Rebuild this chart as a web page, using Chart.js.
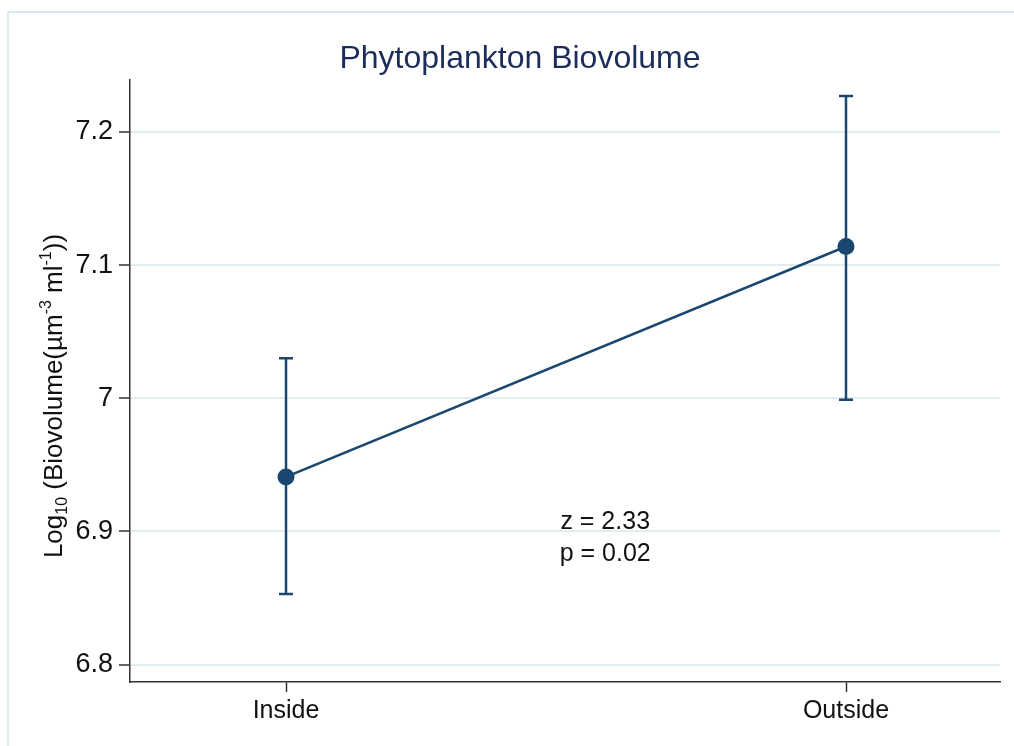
<!DOCTYPE html>
<html>
<head>
<meta charset="utf-8">
<script src="https://cdn.jsdelivr.net/npm/chart.js@4.4.0/dist/chart.umd.min.js"></script>
<style>
  html, body { margin: 0; padding: 0; background: #fff; }
  #wrap { width: 1014px; height: 746px; }
</style>
</head>
<body>
<div id="wrap"><canvas id="chart" width="1014" height="746"></canvas></div>
<script>
// --- Data ---
const categories = ["Inside", "Outside"];
const means = [6.941, 7.114];
const ciLow = [6.853, 6.999];
const ciHigh = [7.030, 7.227];
const yTicks = [6.8, 6.9, 7.0, 7.1, 7.2];
const yTickLabels = ["6.8", "6.9", "7", "7.1", "7.2"];
const chartTitle = "Phytoplankton Biovolume";
const statLines = ["z = 2.33", "p = 0.02"];

// --- Style ---
const NAVY = "#1a476f";
const TITLE_COL = "#1c2d5c";
const GRID = "#e2edf1";
const AXIS = "#333333";
const FONT = "'Liberation Sans', Arial, Helvetica, sans-serif";
Chart.defaults.font.family = FONT;

// outer light-blue frame, like the Stata graph region
const framePlugin = {
  id: "frame",
  beforeDraw(chart) {
    const c = chart.ctx;
    c.save();
    c.fillStyle = "#fff";
    c.fillRect(0, 0, chart.width, chart.height);
    c.strokeStyle = "#dce9ef";
    c.lineWidth = 2;
    c.strokeRect(8, 12, chart.width + 10, chart.height + 10);
    c.restore();
  }
};

// confidence interval bars with caps
const errorBarPlugin = {
  id: "errorBars",
  beforeDatasetsDraw(chart) {
    const c = chart.ctx, xs = chart.scales.x, ys = chart.scales.y;
    c.save();
    c.strokeStyle = NAVY;
    c.lineWidth = 2.5;
    categories.forEach((cat, i) => {
      const px = xs.getPixelForValue(i + 1);
      const top = ys.getPixelForValue(ciHigh[i]);
      const bot = ys.getPixelForValue(ciLow[i]);
      c.beginPath();
      c.moveTo(px, top); c.lineTo(px, bot);
      c.moveTo(px - 7, top); c.lineTo(px + 7, top);
      c.moveTo(px - 7, bot); c.lineTo(px + 7, bot);
      c.stroke();
    });
    c.restore();
  }
};

// title, y axis title with sub/superscripts, z/p annotation
const textPlugin = {
  id: "texts",
  afterDraw(chart) {
    const c = chart.ctx, xs = chart.scales.x, ys = chart.scales.y;
    c.save();
    // title
    c.fillStyle = TITLE_COL;
    c.font = "32px " + FONT;
    c.textAlign = "center";
    c.textBaseline = "alphabetic";
    c.fillText(chartTitle, 520, 68);

    // annotation
    c.fillStyle = "#111";
    c.font = "25px " + FONT;
    c.textBaseline = "middle";
    const ax = xs.getPixelForValue(1.57);
    c.fillText(statLines[0], ax, ys.getPixelForValue(6.907));
    c.fillText(statLines[1], ax, ys.getPixelForValue(6.883));

    // rotated y title
    const parts = [
      { t: "Log", s: 26, dy: 0 },
      { t: "10", s: 16, dy: 5 },
      { t: " (Biovolume(\u00b5m", s: 26, dy: 0 },
      { t: "-3", s: 16, dy: -11 },
      { t: " ml", s: 26, dy: 0 },
      { t: "-1", s: 16, dy: -11 },
      { t: "))", s: 26, dy: 0 }
    ];
    let total = 0;
    parts.forEach(p => { c.font = p.s + "px " + FONT; p.w = c.measureText(p.t).width; total += p.w; });
    c.translate(62, 396);
    c.rotate(-Math.PI / 2);
    c.textAlign = "left";
    c.textBaseline = "alphabetic";
    let x = -total / 2;
    parts.forEach(p => {
      c.font = p.s + "px " + FONT;
      c.fillText(p.t, x, p.dy);
      x += p.w;
    });
    c.restore();
  }
};

new Chart(document.getElementById("chart"), {
  type: "line",
  data: {
    datasets: [{
      data: means.map((m, i) => ({ x: i + 1, y: m })),
      borderColor: NAVY,
      borderWidth: 2.5,
      pointRadius: 8.5,
      pointBackgroundColor: NAVY,
      pointBorderWidth: 0,
      fill: false,
      tension: 0
    }]
  },
  options: {
    responsive: false,
    animation: false,
    layout: { padding: { left: 0, right: 14, top: 80, bottom: 0 } },
    plugins: {
      legend: { display: false },
      tooltip: { enabled: false },
      title: { display: false }
    },
    scales: {
      x: {
        type: "linear",
        min: 0.7214,
        max: 2.275,
        afterBuildTicks: s => { s.ticks = categories.map((c, i) => ({ value: i + 1 })); },
        afterFit: s => { s.height = 64; },
        ticks: {
          autoSkip: false,
          maxRotation: 0,
          color: "#111",
          font: { size: 25 },
          padding: 4,
          callback: v => categories[Math.round(v) - 1]
        },
        grid: { drawOnChartArea: false, drawTicks: true, tickLength: 10, tickColor: AXIS, tickWidth: 1.5 },
        border: { display: true, color: AXIS, width: 1.5 }
      },
      y: {
        min: 6.787,
        max: 7.239,
        afterBuildTicks: s => { s.ticks = yTicks.map(v => ({ value: v })); },
        afterFit: s => { s.width = 130; },
        ticks: {
          color: "#111",
          font: { size: 27 },
          padding: 6,
          callback: v => yTickLabels[yTicks.findIndex(t => Math.abs(t - v) < 1e-6)]
        },
        grid: { color: GRID, lineWidth: 2, drawTicks: true, tickLength: 11, tickColor: AXIS, tickWidth: 1.5 },
        border: { display: true, color: AXIS, width: 1.5 }
      }
    }
  },
  plugins: [framePlugin, errorBarPlugin, textPlugin]
});
</script>
</body>
</html>
